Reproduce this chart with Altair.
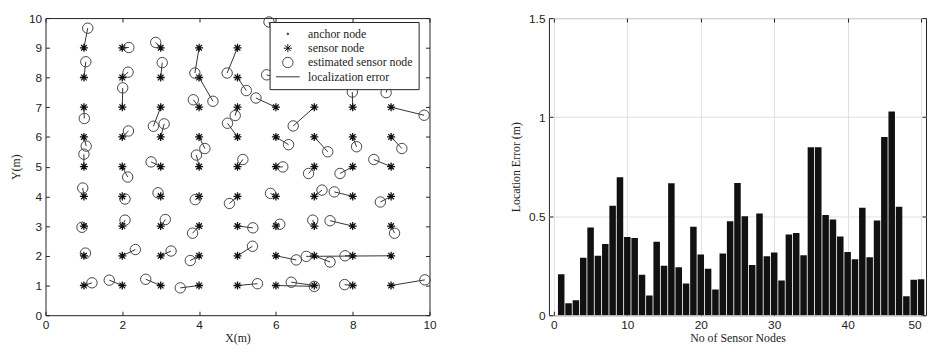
import altair as alt
import pandas as pd

# ---------------- data: left panel (localization map) ----------------
sensor_x = [1, 2, 3, 4, 5, 6, 7, 8, 9,
            1, 2, 3, 4, 5, 6, 7, 8, 9,
            1, 2, 3, 4, 5, 6, 7, 8, 9,
            1, 2, 3, 4, 5, 6, 7, 8, 9,
            1, 2, 3, 4, 5, 6, 7, 8, 9,
            1, 2, 3, 4, 5, 6, 7, 8, 9,
            1, 2, 3, 4, 5, 6, 7, 8, 9,
            1, 2, 3, 4, 5, 6, 7, 8, 9,
            1, 2, 3, 4, 5, 6, 7, 8, 9]
sensor_y = [9, 9, 9, 9, 9, 9, 9, 9, 9,
            8, 8, 8, 8, 8, 8, 8, 8, 8,
            7, 7, 7, 7, 7, 7, 7, 7, 7,
            6, 6, 6, 6, 6, 6, 6, 6, 6,
            5, 5, 5, 5, 5, 5, 5, 5, 5,
            4, 4, 4, 4, 4, 4, 4, 4, 4,
            3, 3, 3, 3, 3, 3, 3, 3, 3,
            2, 2, 2, 2, 2, 2, 2, 2, 2,
            1, 1, 1, 1, 1, 1, 1, 1, 1]
est_x = [1.10, 2.17, 2.87, 3.89, 4.73, 5.82, 7.20, 7.90, 9.10,
         1.05, 2.15, 3.04, 4.36, 5.23, 5.76, 7.10, 7.82, 8.87,
         1.01, 2.01, 2.81, 3.85, 4.94, 5.48, 6.45, 7.99, 9.86,
         1.06, 2.16, 3.09, 4.15, 4.74, 6.33, 7.35, 8.10, 9.28,
         1.00, 2.14, 2.75, 3.93, 5.14, 6.18, 6.85, 7.67, 8.55,
         0.97, 2.07, 2.93, 3.90, 4.79, 5.86, 7.20, 7.52, 8.72,
         0.95, 2.07, 3.12, 3.83, 5.40, 6.10, 6.96, 7.41, 9.09,
         1.04, 2.34, 3.27, 3.77, 5.39, 6.53, 7.41, 7.80, 6.79,
         1.21, 1.66, 2.61, 3.51, 5.52, 7.00, 6.40, 7.79, 9.88]
est_y = [9.66, 9.01, 9.18, 8.15, 8.15, 9.87, 9.10, 8.80, 9.20,
         8.53, 8.18, 8.50, 7.20, 7.56, 8.09, 8.25, 7.81, 7.49,
         6.62, 7.65, 6.36, 7.25, 6.72, 7.31, 6.37, 7.51, 6.73,
         5.69, 6.20, 6.44, 5.61, 6.46, 5.74, 5.50, 5.67, 5.61,
         5.42, 4.65, 5.16, 5.39, 5.24, 4.99, 4.77, 4.77, 5.24,
         4.28, 3.91, 4.12, 3.89, 3.76, 4.10, 4.21, 4.15, 3.81,
         2.96, 3.20, 3.22, 2.76, 2.94, 3.06, 3.20, 3.18, 2.76,
         2.09, 2.21, 2.16, 1.84, 2.32, 1.86, 1.79, 2.00, 1.98,
         1.09, 1.18, 1.21, 0.92, 1.06, 0.97, 1.11, 1.03, 1.19]

legend_labels = ["anchor node", "sensor node", "estimated sensor node", "localization error"]
map_x_ticks = [0, 2, 4, 6, 8, 10]
map_y_ticks = [0, 1, 2, 3, 4, 5, 6, 7, 8, 9, 10]

# ---------------- data: right panel (error per node) ----------------
node_ids = [1, 2, 3, 4, 5, 6, 7, 8, 9, 10,
            11, 12, 13, 14, 15, 16, 17, 18, 19, 20,
            21, 22, 23, 24, 25, 26, 27, 28, 29, 30,
            31, 32, 33, 34, 35, 36, 37, 38, 39, 40,
            41, 42, 43, 44, 45, 46, 47, 48, 49, 50]
loc_error = [0.207, 0.060, 0.075, 0.290, 0.443, 0.300, 0.360, 0.553, 0.697, 0.395,
             0.390, 0.204, 0.100, 0.371, 0.250, 0.666, 0.242, 0.160, 0.446, 0.306,
             0.234, 0.130, 0.311, 0.474, 0.667, 0.500, 0.254, 0.514, 0.298, 0.316,
             0.175, 0.407, 0.415, 0.303, 0.848, 0.848, 0.506, 0.483, 0.397, 0.319,
             0.282, 0.542, 0.292, 0.478, 0.900, 1.029, 0.547, 0.096, 0.179, 0.182]
bar_x_ticks = [0, 10, 20, 30, 40, 50]
bar_y_ticks = [0, 0.5, 1, 1.5]

# ---------------- styling ----------------
SANS = "Liberation Sans"
SERIF = "Liberation Serif"
INK = "#222222"

# symbol paths in a [-1,1] box; symbol size 576 -> box is 24 px wide
shape_paths = [
    "M-0.07,0A0.07,0.07 0 1 1 0.07,0A0.07,0.07 0 1 1 -0.07,0Z",
    "M-0.34,0L0.34,0M0,-0.34L0,0.34M-0.24,-0.24L0.24,0.24M-0.24,0.24L0.24,-0.24",
    "M-0.44,0A0.44,0.44 0 1 1 0.44,0A0.44,0.44 0 1 1 -0.44,0Z",
    "M-1,0L1,0",
]
shape_colors = ["#111111", "#111111", "#444444", "#333333"]

PLOT_H = 301


def axis(orient, values, title=None, labels=True, grid=False, label_align=None):
    kw = dict(
        orient=orient, values=values, labels=labels,
        domain=False, ticks=True, tickSize=4, offset=-4, tickColor=INK,
        labelFont=SANS, labelFontSize=12, labelColor=INK, labelPadding=4,
        labelFlush=False, labelOverlap=False, labelExpr="'' + datum.value",
        titleFont=SERIF, titleFontSize=12, titleFontWeight="normal",
        titleColor=INK, grid=grid, gridColor="#e0e0e0", gridWidth=1,
    )
    kw["title"] = title
    if orient == "bottom":
        kw["titlePadding"] = 3
    else:
        kw["titlePadding"] = 6
    if label_align is not None:
        kw["labelAlign"] = label_align
    return alt.Axis(**kw)


links = pd.DataFrame({"sx": sensor_x, "sy": sensor_y, "ex": est_x, "ey": est_y})
stars_df = pd.DataFrame({"x": sensor_x, "y": sensor_y, "kind": "sensor node"})
circles_df = pd.DataFrame({"x": est_x, "y": est_y, "kind": "estimated sensor node"})

xs = alt.Scale(domain=[0, 10], nice=False, zero=False)
ys = alt.Scale(domain=[0, 10], nice=False, zero=False)

legend = alt.Legend(
    title=None, orient="none", legendX=227, legendY=4, fillColor="white",
    strokeColor=INK, padding=6, symbolSize=576, clipHeight=12,
    rowPadding=2.5, labelFont=SERIF, labelFontSize=12, labelColor=INK,
    labelOffset=8, symbolStrokeWidth=1, symbolOffset=0, labelLimit=400,
)
shape_enc = alt.Shape("kind:N", scale=alt.Scale(domain=legend_labels, range=shape_paths), legend=legend)
color_enc = alt.Color("kind:N", scale=alt.Scale(domain=legend_labels, range=shape_colors), legend=legend)

rules = alt.Chart(links).mark_rule(color="#333333", strokeWidth=1).encode(
    x=alt.X("sx:Q", scale=xs, axis=None),
    y=alt.Y("sy:Q", scale=ys, axis=None),
    x2="ex:Q",
    y2="ey:Q",
)

stars = alt.Chart(stars_df).mark_point(filled=False, size=576, strokeWidth=1.3, opacity=1).encode(
    x=alt.X("x:Q", scale=xs, axis=axis("bottom", map_x_ticks, title="X(m)")),
    y=alt.Y("y:Q", scale=ys, axis=axis("left", map_y_ticks, title="Y(m)")),
    shape=shape_enc,
    color=color_enc,
)

circles = alt.Chart(circles_df).mark_point(filled=False, size=576, strokeWidth=1, opacity=1).encode(
    x=alt.X("x:Q", scale=xs, axis=None),
    y=alt.Y("y:Q", scale=ys, axis=None),
    shape=shape_enc,
    color=color_enc,
)

frame_left = alt.Chart(stars_df).mark_point(opacity=0, size=1).encode(
    x=alt.X("x:Q", scale=xs, axis=axis("top", map_x_ticks, labels=False)),
    y=alt.Y("y:Q", scale=ys, axis=axis("right", map_y_ticks, labels=False)),
)

left = alt.layer(rules, stars, circles, frame_left).resolve_axis(
    x="independent", y="independent"
).properties(width=389, height=PLOT_H)

bars_df = pd.DataFrame({"node": node_ids, "err": loc_error})
bx = alt.Scale(domain=[0, 50], nice=False, zero=False)
by = alt.Scale(domain=[0, 1.5], nice=False)

last_right = {"condition": {"test": "datum.value == 50", "value": "right"}, "value": "center"}

bars = alt.Chart(bars_df).mark_bar(size=6.6, color="#111111", clip=True).encode(
    x=alt.X("node:Q", scale=bx, axis=axis("bottom", bar_x_ticks, title="No of Sensor Nodes",
                                          grid=True, label_align=last_right)),
    y=alt.Y("err:Q", scale=by, axis=axis("left", bar_y_ticks, title="Location Error (m)", grid=True)),
)
frame_right = alt.Chart(bars_df).mark_point(opacity=0, size=1).encode(
    x=alt.X("node:Q", scale=bx, axis=axis("top", bar_x_ticks, labels=False)),
    y=alt.Y("err:Q", scale=by, axis=axis("right", bar_y_ticks, labels=False)),
)
right = alt.layer(bars, frame_right).resolve_axis(
    x="independent", y="independent"
).properties(width=382, height=PLOT_H)

chart = alt.hconcat(left, right, spacing=72).configure_view(
    stroke=INK, strokeWidth=1
).properties(
    padding={"left": 1, "top": 1, "right": 0, "bottom": 0},
    background="white",
)

chart.save("out.html", embed_options={"renderer": "svg", "actions": False})
